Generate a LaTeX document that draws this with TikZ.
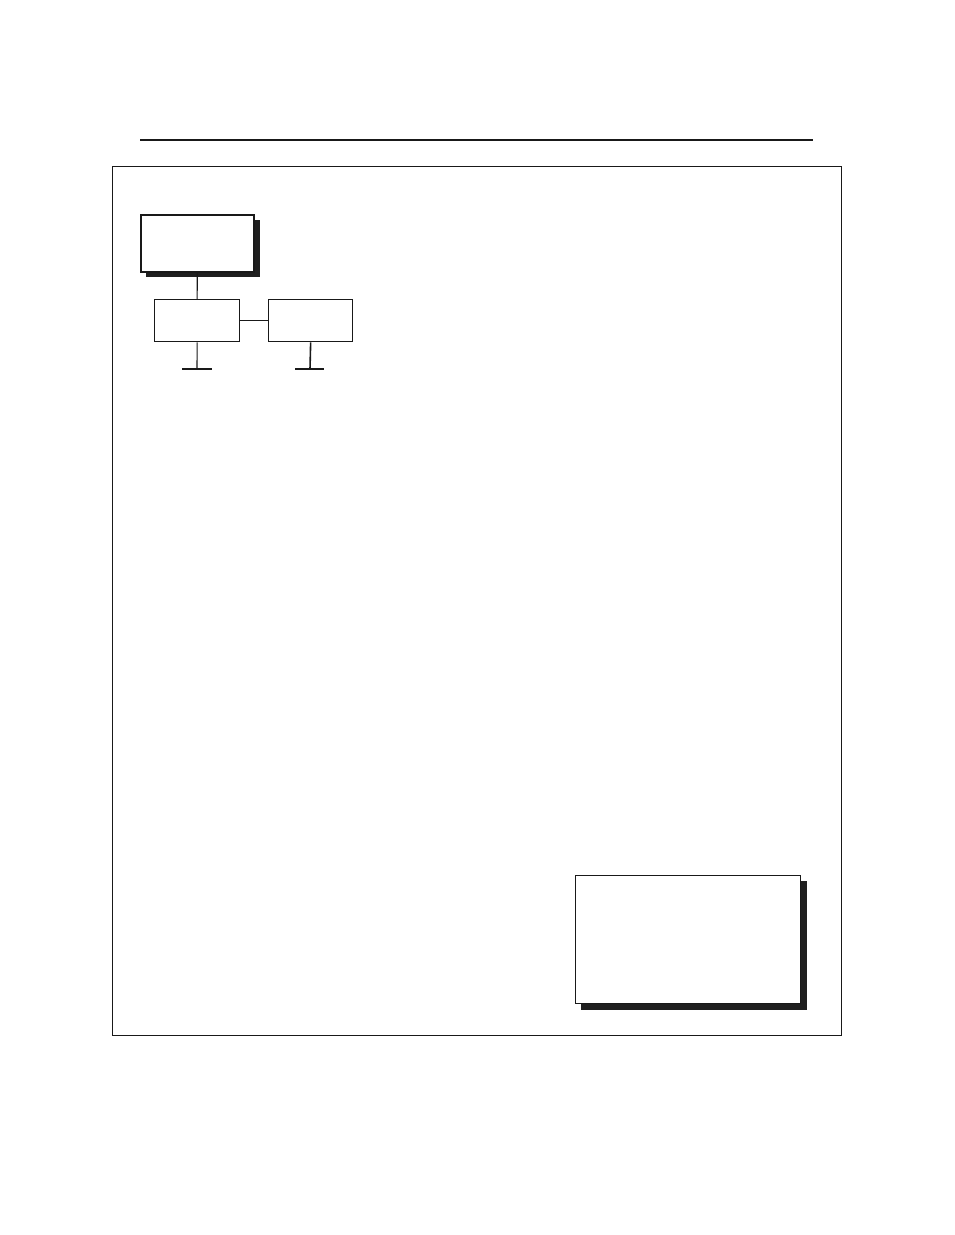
\documentclass[tikz,border=0pt]{standalone}
\begin{document}
\begin{tikzpicture}[x=1pt,y=-1pt,
  boxstyle/.style={draw=black!90, line width=1.6pt, fill=white, inner sep=0pt},
  shadowstyle/.style={fill=black!88, draw=none},
  conn/.style={line width=1.1pt, draw=black!90},
  stemstyle/.style={line width=1.6pt, draw=black!90}]
\useasboundingbox (0,0) rectangle (954,1235);
% top rule
\draw[line width=1.6pt, black!90] (140,140) -- (813,140);
% frame
\draw[line width=0.9pt, black!90] (112,166) rectangle (841,1035);
% top box with shadow
\fill[shadowstyle] (146,220) rectangle (260,277);
\node[boxstyle, minimum width=113pt, minimum height=57pt, anchor=north west] (top) at (140,214) {};
% children
\node[boxstyle, line width=1.3pt, minimum width=85pt, minimum height=42pt, anchor=north west] (c1) at (154,299) {};
\node[boxstyle, line width=1.3pt, minimum width=84pt, minimum height=42pt, anchor=north west] (c2) at (268,299) {};
\draw[conn] (top.south) -- (c1.north);
\draw[conn] (c1.east) -- (c2.west);
% stems
\coordinate (s1) at (197,369);
\coordinate (s2) at (310,369);
\coordinate (b1l) at (182,369);
\coordinate (b1r) at (212,369);
\coordinate (b2l) at (295,369);
\coordinate (b2r) at (324,369);
\draw[conn] (c1.south) -- (s1);
\draw[stemstyle] (c2.south) -- (s2);
\draw[conn] (b1l) -- (b1r);
\draw[conn] (b2l) -- (b2r);
% bottom-right box with shadow
\fill[shadowstyle] (581,881) rectangle (807,1010);
\node[draw=black!90, line width=1.1pt, fill=white, inner sep=0pt, minimum width=225pt, minimum height=128pt, anchor=north west] (br) at (575,875) {};
\end{tikzpicture}
\end{document}
